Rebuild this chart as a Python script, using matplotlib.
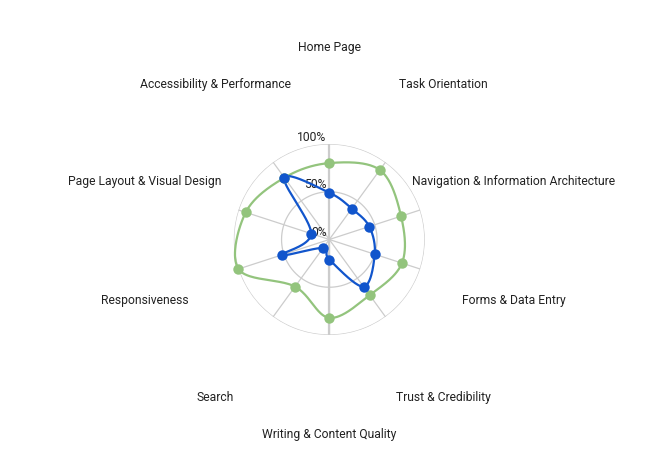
import numpy as np
import matplotlib
matplotlib.use("Agg")
import matplotlib.pyplot as plt

categories = ["Home Page", "Task Orientation", "Navigation & Information Architecture",
              "Forms & Data Entry", "Trust & Credibility", "Writing & Content Quality",
              "Search", "Responsiveness", "Page Layout & Visual Design",
              "Accessibility & Performance"]
series_green = [80, 90, 79, 80, 72, 82, 61, 100, 92, 80]
series_blue = [49, 40, 44, 50, 61, 21, 11, 52, 20, 80]
r_ticks = [0, 50, 100]
r_tick_labels = ["0%", "50%", "100%"]

GREEN = "#93c47d"
BLUE = "#1155cc"
GRID = "#cccccc"

plt.rcParams['font.family'] = ['Roboto', 'DejaVu Sans']

W, H = 660, 473
fig = plt.figure(figsize=(W / 100, H / 100), dpi=100)
cx, cy, R = 329.3, 239.5, 95.5
ax = fig.add_axes([(cx - R) / W, (H - cy - R) / H, 2 * R / W, 2 * R / H], projection='polar')
ax.set_theta_zero_location('N')
ax.set_theta_direction(-1)
ax.set_ylim(0, 100)
ax.axis('off')

n = len(categories)
angles = np.arange(n) * 2 * np.pi / n

# grid
tt = np.linspace(0, 2 * np.pi, 400)
for rv in [50, 100]:
    ax.plot(tt, np.full_like(tt, rv), color=GRID, lw=0.9, zorder=1)
for i, a in enumerate(angles):
    if i == 0:
        ax.plot([a, a], [0, 100], color=GRID, lw=1.6, zorder=1)
        ax.plot([a + np.pi, a + np.pi], [0, 100], color=GRID, lw=1.6, zorder=1)
    else:
        ax.plot([a, a], [0, 100], color=GRID, lw=0.9, zorder=1)


def smooth_closed(vals, angs, steps=40):
    # Catmull-Rom in cartesian space, returns polar theta, r
    x = np.array(vals) * np.sin(angs)
    y = np.array(vals) * np.cos(angs)
    m = len(x)
    xs, ys = [], []
    for i in range(m):
        p0 = np.array([x[(i - 1) % m], y[(i - 1) % m]])
        p1 = np.array([x[i], y[i]])
        p2 = np.array([x[(i + 1) % m], y[(i + 1) % m]])
        p3 = np.array([x[(i + 2) % m], y[(i + 2) % m]])
        t = np.linspace(0, 1, steps, endpoint=False)[:, None]
        c1 = p1 + (p2 - p0) / 6
        c2 = p2 - (p3 - p1) / 6
        pts = ((1 - t) ** 3) * p1 + 3 * ((1 - t) ** 2) * t * c1 + 3 * (1 - t) * t ** 2 * c2 + t ** 3 * p2
        xs.append(pts[:, 0]); ys.append(pts[:, 1])
    xs = np.concatenate(xs + [[x[0]]]); ys = np.concatenate(ys + [[y[0]]])
    th = np.arctan2(xs, ys)
    rr = np.hypot(xs, ys)
    return th, rr


for vals, col in [(series_green, GREEN), (series_blue, BLUE)]:
    th, rr = smooth_closed(vals, angles)
    ax.plot(th, rr, color=col, lw=1.6, zorder=3, clip_on=False)
    ax.plot(angles, vals, 'o', color=col, ms=7.5, zorder=4, clip_on=False, markeredgewidth=0)

# radial tick labels (drawn beneath the series)
for rv, lab in zip(r_ticks, r_tick_labels):
    ax.annotate(lab, xy=(0, rv), xytext=(-2, 2.5), textcoords='offset points',
                ha='right', va='baseline', fontsize=8.7, color='#222222', zorder=2,
                annotation_clip=False)

# category labels
for a, lab in zip(angles, categories):
    ax.text(a, 203, lab, ha='center', va='center_baseline', fontsize=8.7, color='#222222',
            clip_on=False)

fig.savefig("out.png", dpi=100)
